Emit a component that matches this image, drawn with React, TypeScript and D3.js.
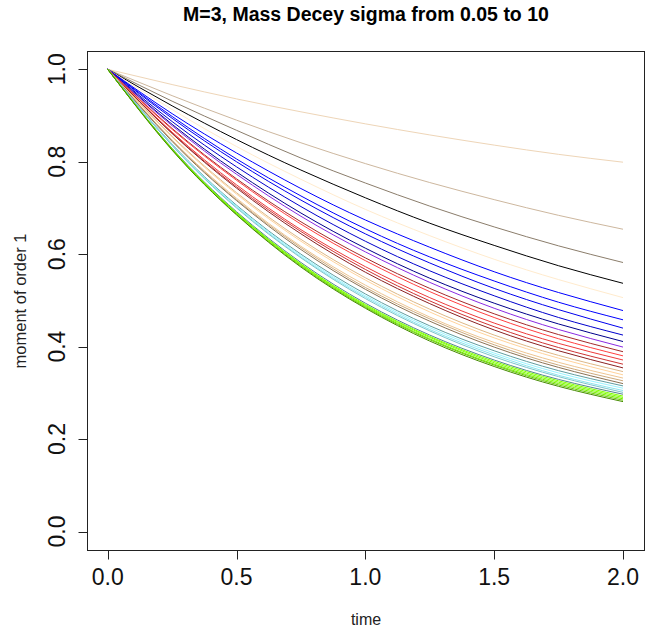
import React from 'react';
import * as d3 from 'd3';

const times = [0, 0.25, 0.5, 0.75, 1, 1.25, 1.5, 1.75, 2];

const lineColors = [
  '#EED5B7', '#CDB79E', '#8B7D6B', '#000000', '#FFEBCD',
  '#0000FF', '#0000FF', '#0000EE', '#0000CD', '#00008B', '#8A2BE2',
  '#A52A2A', '#FF4040', '#EE3B3B', '#CD3333', '#8B2323',
  '#DEB887', '#FFD39B', '#EEC591', '#CDAA7D', '#8B7355',
  '#5F9EA0', '#98F5FF', '#8EE5EE', '#7AC5CD', '#53868B',
  '#7FFF00', '#7FFF00', '#76EE00', '#66CD00', '#458B00',
];

const moments: number[][] = [
  [1, 0.967, 0.936, 0.908, 0.882, 0.858, 0.836, 0.816, 0.799],
  [1, 0.943, 0.890, 0.841, 0.796, 0.755, 0.718, 0.684, 0.654],
  [1, 0.931, 0.868, 0.808, 0.754, 0.704, 0.659, 0.618, 0.582],
  [1, 0.921, 0.848, 0.782, 0.722, 0.667, 0.619, 0.575, 0.537],
  [1, 0.913, 0.833, 0.762, 0.697, 0.640, 0.589, 0.545, 0.506],
  [1, 0.904, 0.819, 0.742, 0.674, 0.615, 0.562, 0.517, 0.478],
  [1, 0.898, 0.806, 0.726, 0.655, 0.594, 0.542, 0.496, 0.458],
  [1, 0.894, 0.800, 0.717, 0.644, 0.581, 0.526, 0.480, 0.440],
  [1, 0.887, 0.789, 0.703, 0.628, 0.564, 0.510, 0.463, 0.425],
  [1, 0.881, 0.778, 0.689, 0.613, 0.548, 0.494, 0.449, 0.411],
  [1, 0.878, 0.773, 0.682, 0.605, 0.539, 0.483, 0.437, 0.399],
  [1, 0.872, 0.763, 0.670, 0.592, 0.526, 0.471, 0.426, 0.389],
  [1, 0.870, 0.760, 0.665, 0.586, 0.519, 0.463, 0.417, 0.380],
  [1, 0.864, 0.750, 0.653, 0.573, 0.506, 0.451, 0.407, 0.371],
  [1, 0.862, 0.746, 0.649, 0.567, 0.499, 0.443, 0.398, 0.362],
  [1, 0.861, 0.743, 0.644, 0.561, 0.493, 0.436, 0.391, 0.354],
  [1, 0.855, 0.733, 0.632, 0.549, 0.481, 0.425, 0.381, 0.346],
  [1, 0.853, 0.730, 0.628, 0.544, 0.475, 0.419, 0.375, 0.339],
  [1, 0.847, 0.721, 0.617, 0.533, 0.464, 0.409, 0.366, 0.332],
  [1, 0.846, 0.718, 0.614, 0.528, 0.460, 0.404, 0.360, 0.326],
  [1, 0.844, 0.716, 0.610, 0.524, 0.455, 0.399, 0.355, 0.320],
  [1, 0.838, 0.706, 0.600, 0.514, 0.445, 0.391, 0.348, 0.315],
  [1, 0.837, 0.704, 0.597, 0.510, 0.441, 0.386, 0.343, 0.310],
  [1, 0.836, 0.702, 0.594, 0.507, 0.437, 0.382, 0.338, 0.305],
  [1, 0.835, 0.700, 0.592, 0.504, 0.434, 0.378, 0.335, 0.301],
  [1, 0.829, 0.692, 0.582, 0.494, 0.425, 0.371, 0.329, 0.297],
  [1, 0.828, 0.690, 0.579, 0.491, 0.422, 0.368, 0.326, 0.293],
  [1, 0.827, 0.689, 0.578, 0.489, 0.420, 0.365, 0.323, 0.290],
  [1, 0.827, 0.688, 0.576, 0.487, 0.417, 0.362, 0.320, 0.287],
  [1, 0.826, 0.686, 0.574, 0.485, 0.415, 0.360, 0.317, 0.284],
  [1, 0.825, 0.685, 0.572, 0.483, 0.412, 0.357, 0.314, 0.281],
];

const xTicks = [0, 0.5, 1, 1.5, 2];
const yTicks = [0, 0.2, 0.4, 0.6, 0.8, 1];
const chartTitle = 'M=3, Mass Decey sigma from 0.05 to 10';
const xTitle = 'time';
const yTitle = 'moment of order 1';

const FONT = '"Liberation Sans", Arial, Helvetica, sans-serif';

export default function App() {
  const W = 667;
  const H = 631;
  const x = d3.scaleLinear().domain([0, 2]).range([107.7, 623]);
  const y = d3.scaleLinear().domain([0, 1]).range([531.5, 69.3]);
  const boxL = Math.round(x(-0.08)) + 0.5;
  const boxR = Math.round(x(2.08)) + 0.5;
  const boxT = Math.round(y(1.04)) + 0.5;
  const boxB = Math.round(y(-0.04)) + 0.5;

  const line = d3
    .line<number>()
    .x((_, i) => x(times[i]))
    .y((d) => y(d))
    .curve(d3.curveNatural);

  return (
    <svg
      width={W}
      height={H}
      style={{ position: 'absolute', left: 0, top: 0, background: '#fff' }}
      fontFamily={FONT}
    >
      <rect x={0} y={0} width={W} height={H} fill="#fff" />
      <text x={(boxL + boxR) / 2} y={21} textAnchor="middle" fontWeight="bold" fontSize={19.5} fill="#000">
        {chartTitle}
      </text>
      <g>
        {moments.map((vals, i) => (
          <path key={i} d={line(vals) || ''} fill="none" stroke={lineColors[i]} strokeWidth={1} />
        ))}
      </g>
      <rect x={boxL} y={boxT} width={boxR - boxL} height={boxB - boxT} fill="none" stroke="#222" strokeWidth={1} />
      {xTicks.map((t) => (
        <g key={'x' + t}>
          <line x1={Math.round(x(t)) + 0.5} x2={Math.round(x(t)) + 0.5} y1={boxB} y2={boxB + 9} stroke="#222" />
          <text x={x(t)} y={585} textAnchor="middle" fontSize={23} fill="#111">
            {d3.format('.1f')(t)}
          </text>
        </g>
      ))}
      {yTicks.map((t) => (
        <g key={'y' + t}>
          <line x1={boxL - 9} x2={boxL} y1={Math.round(y(t)) + 0.5} y2={Math.round(y(t)) + 0.5} stroke="#222" />
          <text transform={`translate(65, ${y(t)}) rotate(-90)`} textAnchor="middle" fontSize={23} fill="#111">
            {d3.format('.1f')(t)}
          </text>
        </g>
      ))}
      <text x={(boxL + boxR) / 2} y={625} textAnchor="middle" fontSize={16} fill="#222">
        {xTitle}
      </text>
      <text transform={`translate(26, ${(boxT + boxB) / 2}) rotate(-90)`} textAnchor="middle" fontSize={16.5} fill="#222">
        {yTitle}
      </text>
    </svg>
  );
}
